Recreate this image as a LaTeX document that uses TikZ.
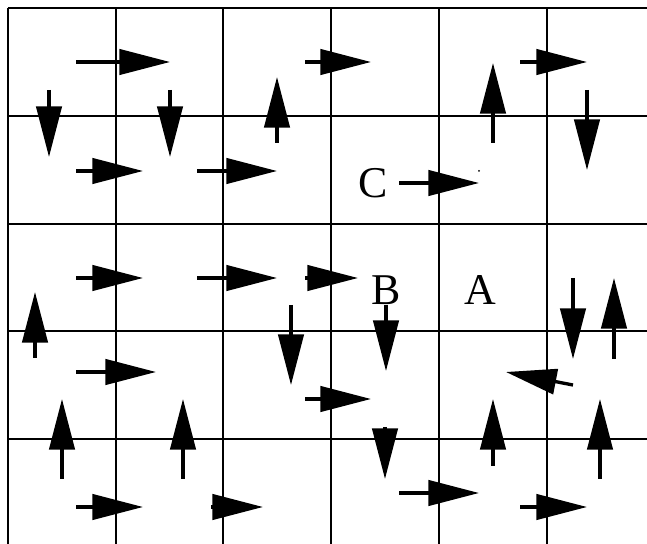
\documentclass[tikz,border=0pt]{standalone}
\usepackage{fontspec}
\setmainfont{Liberation Serif}
\usetikzlibrary{arrows.meta}

\tikzset{
  vec/.style={line width=1.9pt,-{Triangle[length=28.8pt,width=14.4pt]}},
  gridline/.style={line width=1.1pt},
  lbl/.style={font=\fontsize{25}{25}\selectfont,inner sep=0pt}
}

\begin{document}
\begin{tikzpicture}[x=0.02cm,y=-0.02cm]
\useasboundingbox (0,0) rectangle (647,544);

% grid
\foreach \gx in {8,116,223,331,439,547}
  \draw[gridline] (\gx,8) -- (\gx,544);
\foreach \gy in {8,116,224,331,439}
  \draw[gridline] (8,\gy) -- (647,\gy);

% horizontal vectors: y / tail x / tip x
\foreach \hy/\hxa/\hxb in {62/76/170, 62/305/371, 62/520/587,
                           171/76/143, 171/197/277, 183/399/479,
                           278/76/143, 278/197/277, 278/305/358,
                           372/76/156, 399/305/371, 493/399/479,
                           507/76/143, 507/211/263, 507/520/587}
  \draw[vec] (\hxa,\hy) -- (\hxb,\hy);

% vertical vectors: x / tail y / tip y
\foreach \vx/\vya/\vyb in {49/90/157, 170/90/157, 277/143/77,
                           493/143/63, 587/90/170,
                           35/358/292, 291/305/385, 386/305/371,
                           573/278/359, 614/359/278,
                           62/479/399, 183/479/399, 493/466/399,
                           600/479/399, 385/427/479}
  \draw[vec] (\vx,\vya) -- (\vx,\vyb);

% the slanted one
\draw[vec] (573,385) -- (506,372);

% labels
\node[lbl] (C) at (373,183) {C};
\node[lbl] (B) at (386,290) {B};
\node[lbl] (A) at (480,290) {A};

\fill (479,171) circle (1);
\end{tikzpicture}
\end{document}
